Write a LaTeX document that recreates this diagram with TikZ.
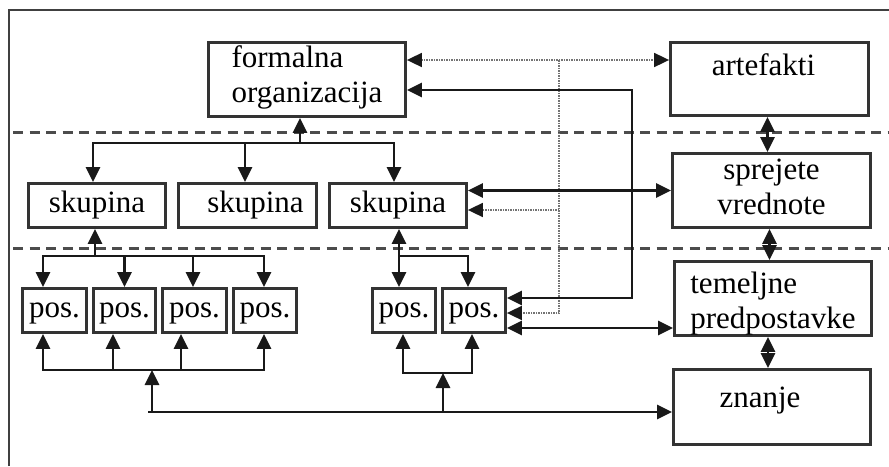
\documentclass[tikz,border=0pt]{standalone}
\usepackage{fontspec}
\setmainfont{Liberation Serif}
\usetikzlibrary{arrows.meta,calc}
% empty rules that only add depth below / height above a line of a node
\newcommand\lowpad[1]{\rule[-#1]{0pt}{#1}}
\newcommand\highpad[1]{\rule{0pt}{#1}}
\begin{document}
\begin{tikzpicture}[x=1pt,y=-1pt,
  >={Triangle[length=15pt,width=14pt]},
  every node/.style={font=\fontsize{31}{35}\selectfont, text=black},
  box/.style={draw=black!80, line width=2.8pt, inner sep=0pt},
  oneline/.style={text height=21pt, text depth=7pt},
  posbox/.style={box, oneline, minimum width=64pt, minimum height=44pt},
  grpbox/.style={box, oneline, minimum width=137pt, minimum height=44pt},
  conn/.style={draw=black!90, line width=2.8pt},
  dotconn/.style={draw=black!55, line width=1.8pt, dash pattern=on 1.5pt off 1pt,
    >={Triangle[length=15pt,width=14pt,color=black!90]}},
  divider/.style={draw=black!70, line width=3pt, dash pattern=on 10pt off 6.5pt},
  frame/.style={draw=black!75, line width=2.4pt}]

\useasboundingbox (0,0) rectangle (889,466);
\fill[white] (0,0) rectangle (889,466);

% open frame and level dividers
\draw[frame] (9,466) -- (9,10) -- (889,10);
\coordinate (divA) at (13,132);
\coordinate (divB) at (13,248);
\draw[divider] (divA) -- (889,132);
\draw[divider] (divB) -- (889,248);

% right column: levels of culture
\node[box, oneline, text depth=29pt, minimum width=198pt, minimum height=73pt] (art) at (769.5,79) {artefakti\hspace*{12pt}};
\node[box, align=center, minimum width=198pt, minimum height=74pt] (spr) at (771.5,190.5) {sprejete\\vrednote\lowpad{7pt}};
\node[box, align=left, minimum width=197pt, minimum height=74pt] (tem) at (773,298.5) {\highpad{32pt}temeljne\\predpostavke};
\node[box, oneline, text depth=21pt, minimum width=197pt, minimum height=75pt] (zna) at (772,407) {znanje\hspace*{24pt}};

% organisation, groups, individuals
\node[box, align=left, minimum width=197pt, minimum height=74pt] (form) at (307,79.5) {formalna\\organizacija\lowpad{10pt}};
\node[grpbox] (s1) at (97,205.5) {skupina};
\node[grpbox, minimum width=138pt] (s2) at (247.5,205.5) {\hspace*{16pt}skupina};
\node[grpbox] (s3) at (398,205.5) {skupina};
\node[posbox] (p1) at (54.5,310.5) {pos.};
\node[posbox, minimum width=62pt] (p2) at (124.5,310.5) {pos.};
\node[posbox] (p3) at (194.5,310.5) {pos.};
\node[posbox, minimum width=63pt] (p4) at (265,310.5) {pos.};
\node[posbox, minimum width=63pt] (p5) at (404,310.5) {pos.};
\node[posbox, minimum width=63pt] (p6) at (474,310.5) {pos.};

% organisation -> groups
\coordinate (fbus) at (300,143);
\draw[conn,<->] ([xshift=-4pt]s1.north) |- (fbus) -| ([xshift=-4pt]s3.north);
\draw[conn,->] ([xshift=-2.5pt]s2.north |- fbus) -- ([xshift=-2.5pt]s2.north);
\draw[conn,->] (fbus) -- (fbus |- form.south);

% first group -> individuals
\coordinate (gbus1) at (95,256);
\draw[conn,<->] ([xshift=-11.5pt]p1.north) |- (gbus1) -| ([xshift=-1pt]p4.north);
\draw[conn,->] (p2.north |- gbus1) -- (p2.north);
\draw[conn,->] ([xshift=-1.5pt]p3.north |- gbus1) -- ([xshift=-1.5pt]p3.north);
\draw[conn,->] (gbus1) -- (gbus1 |- s1.south);

% third group <-> individuals
\coordinate (gbus3) at (399,256);
\draw[conn,<->] (gbus3 |- s3.south) -- (gbus3 |- p5.north);
\draw[conn,->] (gbus3) -| ([xshift=-6pt]p6.north);

% knowledge feeding the individuals
\coordinate (kbus1) at (152,370);
\coordinate (kbus2) at (443,373);
\coordinate (kline) at (148,412);
\draw[conn,<->] ([xshift=-11.5pt]p1.south) |- (kbus1) -| ([xshift=-1pt]p4.south);
\draw[conn,->] ([xshift=-11.5pt]p2.south |- kbus1) -- ([xshift=-11.5pt]p2.south);
\draw[conn,->] ([xshift=-13.5pt]p3.south |- kbus1) -- ([xshift=-13.5pt]p3.south);
\draw[conn,<->] ([xshift=-1pt]p5.south) |- (kbus2) -| ([xshift=-2pt]p6.south);
\draw[conn,->] (kline) -- (kline -| zna.west);
\draw[conn,->] (kbus1 |- kline) -- (kbus1);
\draw[conn,->] (kbus2 |- kline) -- (kbus2);

% artefacts (dotted)
\coordinate (dtop) at (559,60);
\coordinate (p6dot) at ($(p6.east)+(0,2.5)$);
\coordinate (s3dot) at ($(s3.east)+(0,4.5)$);
\draw[dotconn,<->] (dtop -| form.east) -- (dtop -| art.west);
\draw[dotconn,->] (dtop) |- (p6dot);
\draw[dotconn,->] (dtop |- s3dot) -- (s3dot);

% organisation <-> individual
\coordinate (rloop) at (632,90);
\coordinate (p6top) at ($(p6.east)+(0,-12.5)$);
\draw[conn,<->] (rloop -| form.east) -- (rloop) |- (p6top);

% values and assumptions
\coordinate (p6low) at ($(p6.east)+(0,17.5)$);
\draw[conn,<->] (spr.west -| s3.east) -- (spr.west);
\draw[conn,<->] (p6low) -- (p6low -| tem.west);
\draw[conn,<->] ([xshift=-2pt]art.south) -- ([xshift=-2pt]art.south |- spr.north);
\draw[conn,<->] ([xshift=-2pt]spr.south) -- ([xshift=-2pt]spr.south |- tem.north);
\draw[conn,<->] ([xshift=-5pt]tem.south) -- ([xshift=-5pt]tem.south |- zna.north);
\end{tikzpicture}
\end{document}
